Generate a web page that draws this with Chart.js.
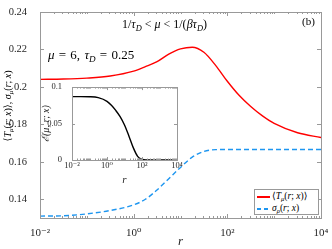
<!DOCTYPE html>
<html>
<head>
<meta charset="utf-8">
<script src="https://cdn.jsdelivr.net/npm/chart.js@4.4.1/dist/chart.umd.min.js"></script>
<style>
body { margin: 0; background: #fff; }
#wrap { position: relative; width: 332px; height: 249px; overflow: hidden;
  font-family: "Liberation Serif", "DejaVu Serif", serif; color: #000; }
#main { position: absolute; left: 0; top: 0; }
#inset { position: absolute; left: 40px; top: 80px; }
.t { position: absolute; white-space: nowrap; line-height: 1; }
.t i, #legend i { font-style: italic; }
sub { font-size: 70%; vertical-align: -0.3em; line-height: 0; }
#ylab { left: 8px; top: 106px; font-size: 10px; transform: translate(-50%, -50%) rotate(-90deg); }
#legend { position: absolute; left: 254px; top: 189px; width: 63px; height: 24px;
  background: #fff; border: 1px solid #999; font-size: 9.5px; }
#legend div { position: relative; height: 11px; margin-top: 1px; }
#legend span.s { position: absolute; left: 2px; top: 5px; width: 13px; height: 1.5px; }
#legend span.l { position: absolute; left: 17px; top: 1px; white-space: nowrap; line-height: 1; }
</style>
</head>
<body>
<div id="wrap">
  <canvas id="main" width="332" height="249"></canvas>
  <canvas id="inset" width="150" height="107"></canvas>
  <div class="t" style="left:122px;top:18px;font-size:12px;">1/<i>τ</i><sub><i>D</i></sub> &lt; <i>μ</i> &lt; 1/(<i>βτ</i><sub><i>D</i></sub>)</div>
  <div class="t" style="left:302px;top:16px;font-size:11px;">(b)</div>
  <div class="t" style="left:48px;top:48px;font-size:13px;word-spacing:1px;"><i>μ</i> = 6, <i>τ</i><sub><i>D</i></sub> = 0.25</div>
  <div class="t" id="ylab">⟨<i>T</i><sub><i>μ</i></sub>(<i>r</i>; <i>x</i>)⟩, <i>σ</i><sub><i>μ</i></sub>(<i>r</i>; <i>x</i>)</div>
  <div id="legend">
    <div><span class="s" style="background:#ff0000"></span><span class="l">⟨<i>T</i><sub><i>μ</i></sub>(<i>r</i>; <i>x</i>)⟩</span></div>
    <div><span class="s" style="background:repeating-linear-gradient(to right,#1e96f0 0 4px,transparent 4px 7px)"></span><span class="l"><i>σ</i><sub><i>ρ</i></sub>(<i>r</i>; <i>x</i>)</span></div>
  </div>
</div>
<script>
// r values (log axis)
var r = [0.01, 0.0316, 0.1, 0.316, 1, 1.78, 3.16, 5.62, 10, 17.8, 31.6, 56.2, 100, 178, 316, 562, 1000, 3162, 10000];
var meanT = [0.2040, 0.2042, 0.2047, 0.2058, 0.2084, 0.2108, 0.2135, 0.2175, 0.2203, 0.2212, 0.2185, 0.2115, 0.2030, 0.1955, 0.1895, 0.1845, 0.1805, 0.1755, 0.1730];
var sigma = [0.1310, 0.1312, 0.1322, 0.1340, 0.1370, 0.1400, 0.1450, 0.1510, 0.1570, 0.1625, 0.1655, 0.1665, 0.1666, 0.1666, 0.1666, 0.1666, 0.1666, 0.1666, 0.1666];
var energy = [0.0870, 0.0870, 0.0868, 0.0855, 0.0805, 0.0750, 0.0680, 0.0595, 0.0480, 0.0330, 0.0170, 0.0050, 0.0010, 0.0001, 0, 0, 0, 0, 0];

var yTicks = [0.14, 0.16, 0.18, 0.2, 0.22, 0.24];
var insetYTicks = [0, 0.05, 0.1];
var decades = [-2, -1, 0, 1, 2, 3, 4];
var xLabels = { "-2": "10⁻²", "0": "10⁰", "2": "10²", "4": "10⁴" };

var serif = "'Liberation Serif', 'DejaVu Serif', serif";

function pts(ys) {
    return r.map(function (x, i) { return { x: x, y: ys[i] }; });
}

// log ticks: every 1..9 per decade, major on labelled decades
function logTicks(scale) {
    var t = [];
    for (var k = 0; k < decades.length; k++) {
        var e = decades[k];
        var last = (k == decades.length - 1) ? 1 : 9;
        for (var m = 1; m <= last; m++) {
            t.push({ value: m * Math.pow(10, e), major: m == 1 && xLabels[e] !== undefined });
        }
    }
    scale.ticks = t;
}
function logLabel(v, i, ticks) {
    if (!ticks[i].major) return '';
    return xLabels[Math.round(Math.log10(v))];
}

// box round the axes + inward ticks (matlab style)
var boxTicks = {
    id: 'boxTicks',
    beforeDatasetsDraw: function (chart, args, o) {
        var a = chart.chartArea, ctx = chart.ctx;
        if (o.fill) {
            ctx.save();
            ctx.fillStyle = o.fill;
            ctx.fillRect(a.left, a.top, a.right - a.left, a.bottom - a.top);
            ctx.restore();
        }
    },
    afterDatasetsDraw: function (chart, args, o) {
        var a = chart.chartArea, ctx = chart.ctx;
        var xs = chart.scales.x, ys = chart.scales.y;
        ctx.save();
        ctx.strokeStyle = o.color || '#999';
        ctx.lineWidth = 1;
        ctx.beginPath();
        xs.ticks.forEach(function (t) {
            var px = Math.round(xs.getPixelForValue(t.value)) + 0.5;
            var len = t.major ? o.major : o.minor;
            ctx.moveTo(px, a.bottom); ctx.lineTo(px, a.bottom - len);
            ctx.moveTo(px, a.top); ctx.lineTo(px, a.top + len);
        });
        ys.ticks.forEach(function (t) {
            var py = Math.round(ys.getPixelForValue(t.value)) + 0.5;
            ctx.moveTo(a.left, py); ctx.lineTo(a.left + o.major, py);
            ctx.moveTo(a.right, py); ctx.lineTo(a.right - o.major, py);
        });
        ctx.stroke();
        ctx.strokeRect(Math.round(a.left) + 0.5, Math.round(a.top) + 0.5,
            Math.round(a.right - a.left), Math.round(a.bottom - a.top));
        // x tick labels drawn here for the inset
        if (o.xLabelSize) {
            ctx.fillStyle = '#262626';
            ctx.font = o.xLabelSize + 'px ' + serif;
            ctx.textAlign = 'center';
            ctx.textBaseline = 'top';
            xs.ticks.forEach(function (t, i) {
                if (!t.major) return;
                ctx.fillText(logLabel(t.value, i, xs.ticks), xs.getPixelForValue(t.value), a.bottom + 2);
            });
        }
        ctx.restore();
    }
};

new Chart(document.getElementById('main'), {
    type: 'line',
    data: {
        datasets: [
            { label: '⟨Tμ(r;x)⟩', data: pts(meanT), borderColor: '#ff0000', borderWidth: 1.4,
              pointRadius: 0, fill: false, cubicInterpolationMode: 'monotone' },
            { label: 'σρ(r;x)', data: pts(sigma), borderColor: '#1e96f0', borderWidth: 1.4,
              borderDash: [5, 3], pointRadius: 0, fill: false, cubicInterpolationMode: 'monotone' }
        ]
    },
    options: {
        responsive: false,
        animation: false,
        devicePixelRatio: 1,
        layout: { padding: { left: 0, top: 12, right: 11, bottom: 0 } },
        plugins: {
            legend: { display: false },
            tooltip: { enabled: false },
            boxTicks: { major: 4, minor: 2, color: '#999' }
        },
        scales: {
            x: {
                type: 'logarithmic', min: 0.01, max: 10000,
                afterBuildTicks: logTicks,
                afterFit: function (s) { s.height = 31; },
                grid: { display: false },
                border: { display: false },
                ticks: { callback: logLabel, autoSkip: false, maxRotation: 0, padding: 2,
                    color: '#262626', font: { family: serif, size: 11, lineHeight: 1 } },
                title: { display: true, text: 'r', color: '#262626', padding: 0,
                    font: { family: serif, size: 13, style: 'italic' } }
            },
            y: {
                min: 0.13, max: 0.24,
                afterBuildTicks: function (s) { s.ticks = yTicks.map(function (v) { return { value: v }; }); },
                afterFit: function (s) { s.width = 40; },
                grid: { display: false },
                border: { display: false },
                ticks: { callback: function (v) { return String(+v.toFixed(2)); }, padding: 5,
                    color: '#262626', font: { family: serif, size: 10.5 } }
            }
        }
    },
    plugins: [boxTicks]
});

new Chart(document.getElementById('inset'), {
    type: 'line',
    data: {
        datasets: [
            { label: 'E', data: pts(energy), borderColor: '#000', borderWidth: 1.4,
              pointRadius: 0, fill: false, cubicInterpolationMode: 'monotone' }
        ]
    },
    options: {
        responsive: false,
        animation: false,
        devicePixelRatio: 1,
        layout: { padding: { left: 0, top: 6, right: 13, bottom: 0 } },
        plugins: {
            legend: { display: false },
            tooltip: { enabled: false },
            boxTicks: { major: 3, minor: 1.5, color: '#999', fill: '#fff', xLabelSize: 8.5 }
        },
        scales: {
            x: {
                type: 'logarithmic', min: 0.01, max: 10000,
                afterBuildTicks: logTicks,
                afterFit: function (s) { s.height = 27; },
                grid: { display: false },
                border: { display: false },
                ticks: { display: false },
                title: { display: true, text: 'r', color: '#262626', padding: 0,
                    font: { family: serif, size: 11, style: 'italic' } }
            },
            y: {
                min: 0, max: 0.1,
                afterBuildTicks: function (s) { s.ticks = insetYTicks.map(function (v) { return { value: v }; }); },
                afterFit: function (s) { s.width = 32; },
                grid: { display: false },
                border: { display: false },
                ticks: { callback: function (v) { return String(+v.toFixed(2)); }, padding: 2,
                    color: '#262626', font: { family: serif, size: 8.5 } },
                title: { display: true, text: 'ℰ(μ, r; x)', color: '#262626', padding: 0,
                    font: { family: serif, size: 10, style: 'italic' } }
            }
        }
    },
    plugins: [boxTicks]
});
</script>
</body>
</html>
